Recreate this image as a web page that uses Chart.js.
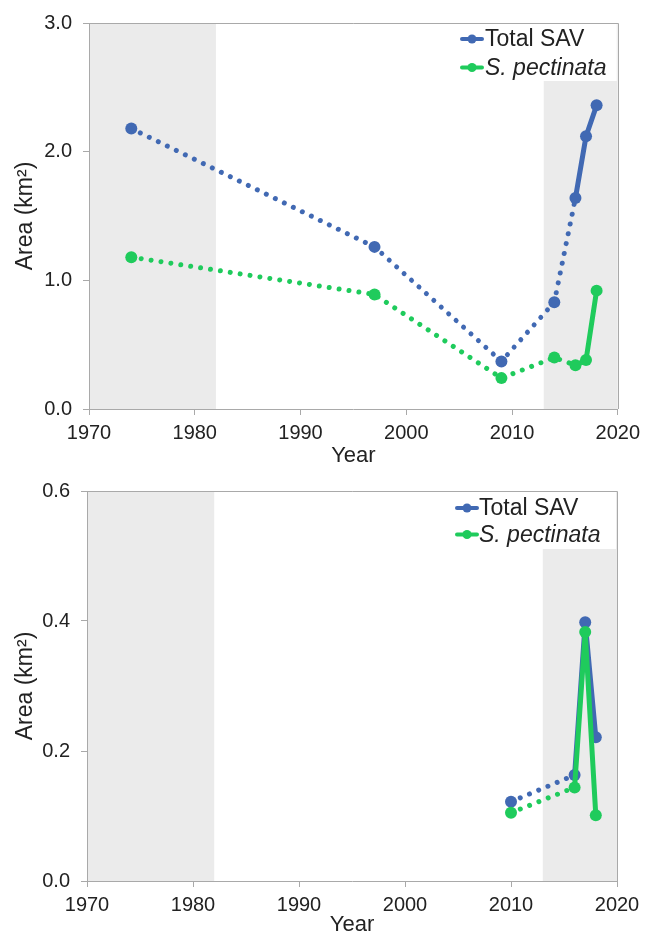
<!DOCTYPE html>
<html><head><meta charset="utf-8">
<script src="https://cdn.jsdelivr.net/npm/chart.js@4"></script>
<style>
html,body{margin:0;padding:0;background:#fff;}
#wrap{width:646px;height:936px;position:relative;overflow:hidden;background:#fff;}
.panel{position:absolute;left:0;width:646px;height:468px;}
</style></head><body>
<div id="wrap">
<div class="panel" style="top:0"><canvas id="c1" width="646" height="468"></canvas></div>
<div class="panel" style="top:468px"><canvas id="c2" width="646" height="468"></canvas></div>
</div>
<script>
// ---------- data ----------
const seriesNames = ['Total SAV', 'S. pectinata'];
const yearsTop = [1974, 1997, 2009, 2014, 2016, 2017, 2018];
const totalSavTop = [2.18, 1.26, 0.37, 0.83, 1.64, 2.12, 2.36];
const pectinataTop = [1.18, 0.89, 0.24, 0.40, 0.34, 0.38, 0.92];
const yearsBottom = [2010, 2016, 2017, 2018];
const totalSavBottom = [0.122, 0.163, 0.398, 0.221];
const pectinataBottom = [0.105, 0.144, 0.383, 0.101];
const xTicks = [1970, 1980, 1990, 2000, 2010, 2020];
const yTicksTop = [0, 1, 2, 3];
const yTicksBottom = [0, 0.2, 0.4, 0.6];
const shadedPeriods = [[1970, 1982], [2013, 2020]];
const solidFromYear = 2016;

// ---------- style ----------
const BLUE = '#4169B3';
const GREEN = '#1FCB5C';
const AXIS = '#A9A9A9';
const TEXT = '#222222';
const BAND = '#EBEBEB';
const FONT = '"Liberation Sans", Arial, sans-serif';

function pts(xs, ys) { return xs.map((x, i) => ({x: x, y: ys[i]})); }

function dataset(label, xs, ys, color, order) {
  return {
    label: label,
    data: pts(xs, ys),
    borderColor: color,
    backgroundColor: color,
    borderWidth: 5,
    borderCapStyle: 'round',
    borderJoinStyle: 'round',
    pointRadius: 6,
    pointHoverRadius: 6,
    pointBorderWidth: 0,
    pointBackgroundColor: color,
    tension: 0,
    order: order,
    segment: {
      borderDash: c => (c.p1.parsed.x <= solidFromYear ? [0.01, 10] : undefined),
      borderWidth: c => (c.p1.parsed.x <= solidFromYear ? 5 : 5)
    }
  };
}

const framePlugin = {
  id: 'frame',
  beforeDraw(chart) {
    const {ctx, chartArea: a, scales: {x}} = chart;
    ctx.save();
    ctx.fillStyle = BAND;
    shadedPeriods.forEach(([s, e]) => {
      const x0 = x.getPixelForValue(s), x1 = x.getPixelForValue(e);
      ctx.fillRect(x0, a.top, x1 - x0, a.bottom - a.top);
    });
    ctx.restore();
  },
  afterDraw(chart, args, o) {
    const {ctx, chartArea: a} = chart;
    ctx.save();
    ctx.fillStyle = '#fff';
    ctx.fillRect(o.boxLeft, a.top + 1, a.right - 1 - o.boxLeft, o.boxBottom - a.top - 1);
    ctx.strokeStyle = AXIS;
    ctx.lineWidth = 1;
    ctx.beginPath();
    ctx.moveTo(Math.round(a.left), Math.round(a.top) + 0.5);
    ctx.lineTo(Math.round(a.right) + 0.5, Math.round(a.top) + 0.5);
    ctx.lineTo(Math.round(a.right) + 0.5, Math.round(a.bottom));
    ctx.stroke();
    const colors = [BLUE, GREEN];
    seriesNames.forEach((name, i) => {
      const y = o.ys[i];
      ctx.strokeStyle = colors[i];
      ctx.lineWidth = 4;
      ctx.lineCap = 'round';
      ctx.beginPath();
      ctx.moveTo(o.x0 + 2, y);
      ctx.lineTo(o.x1 - 2, y);
      ctx.stroke();
      ctx.fillStyle = colors[i];
      ctx.beginPath();
      ctx.arc((o.x0 + o.x1) / 2, y, 4.5, 0, Math.PI * 2);
      ctx.fill();
      ctx.fillStyle = TEXT;
      ctx.textBaseline = 'middle';
      ctx.textAlign = 'left';
      ctx.font = (i === 1 ? 'italic ' : '') + '23px ' + FONT;
      ctx.fillText(name, o.textX, y + 1);
    });
    ctx.restore();
  }
};

function makeChart(id, cfg) {
  return new Chart(document.getElementById(id), {
    type: 'line',
    data: {
      datasets: [
        dataset(seriesNames[0], cfg.years, cfg.total, BLUE, 1),
        dataset(seriesNames[1], cfg.years, cfg.pect, GREEN, 0)
      ]
    },
    plugins: [framePlugin],
    options: {
      responsive: false,
      animation: false,
      events: [],
      layout: {padding: {left: 0, top: cfg.padTop, right: cfg.padRight, bottom: 0}},
      plugins: {
        legend: {display: false},
        tooltip: {enabled: false},
        frame: cfg.legend
      },
      scales: {
        x: {
          type: 'linear',
          min: 1970, max: 2020,
          afterBuildTicks: s => { s.ticks = xTicks.map(v => ({value: v})); },
          afterFit: s => { s.height = cfg.xHeight; },
          ticks: {
            color: TEXT, padding: 6,
            font: {family: FONT, size: 20},
            callback: v => String(v),
            maxRotation: 0, autoSkip: false
          },
          grid: {display: true, drawOnChartArea: false, drawTicks: true, tickLength: 6, color: AXIS},
          border: {display: true, color: AXIS, width: 1},
          title: {
            display: true, text: 'Year', color: TEXT,
            font: {family: FONT, size: 22, lineHeight: 1.2},
            padding: {top: 0, bottom: cfg.xTitlePadBottom}
          }
        },
        y: {
          type: 'linear',
          min: cfg.yTicks[0], max: cfg.yTicks[cfg.yTicks.length - 1],
          afterBuildTicks: s => { s.ticks = cfg.yTicks.map(v => ({value: v})); },
          afterFit: s => { s.width = cfg.yWidth; },
          ticks: {
            color: TEXT, padding: 11,
            font: {family: FONT, size: 20},
            callback: v => Number(v).toFixed(1)
          },
          grid: {display: true, drawOnChartArea: false, drawTicks: true, tickLength: 6, color: AXIS},
          border: {display: true, color: AXIS, width: 1},
          title: {
            display: true, text: 'Area (km²)', color: TEXT,
            font: {family: FONT, size: 23, lineHeight: 1.2},
            padding: {top: 12, bottom: 0}
          }
        }
      }
    }
  });
}

makeChart('c1', {
  years: yearsTop, total: totalSavTop, pect: pectinataTop, yTicks: yTicksTop,
  padTop: 23, padRight: 23, yWidth: 89, xHeight: 59, xTitlePadBottom: -1,
  legend: {boxLeft: 452, boxBottom: 81, x0: 460, x1: 484, textX: 485, ys: [39, 67.5]}
});

makeChart('c2', {
  years: yearsBottom, total: totalSavBottom, pect: pectinataBottom, yTicks: yTicksBottom,
  padTop: 21, padRight: 29, yWidth: 87, xHeight: 55, xTitlePadBottom: -2,
  legend: {boxLeft: 448, boxBottom: 81, x0: 455, x1: 479, textX: 479, ys: [40, 66.5]}
});
</script>
</body></html>
